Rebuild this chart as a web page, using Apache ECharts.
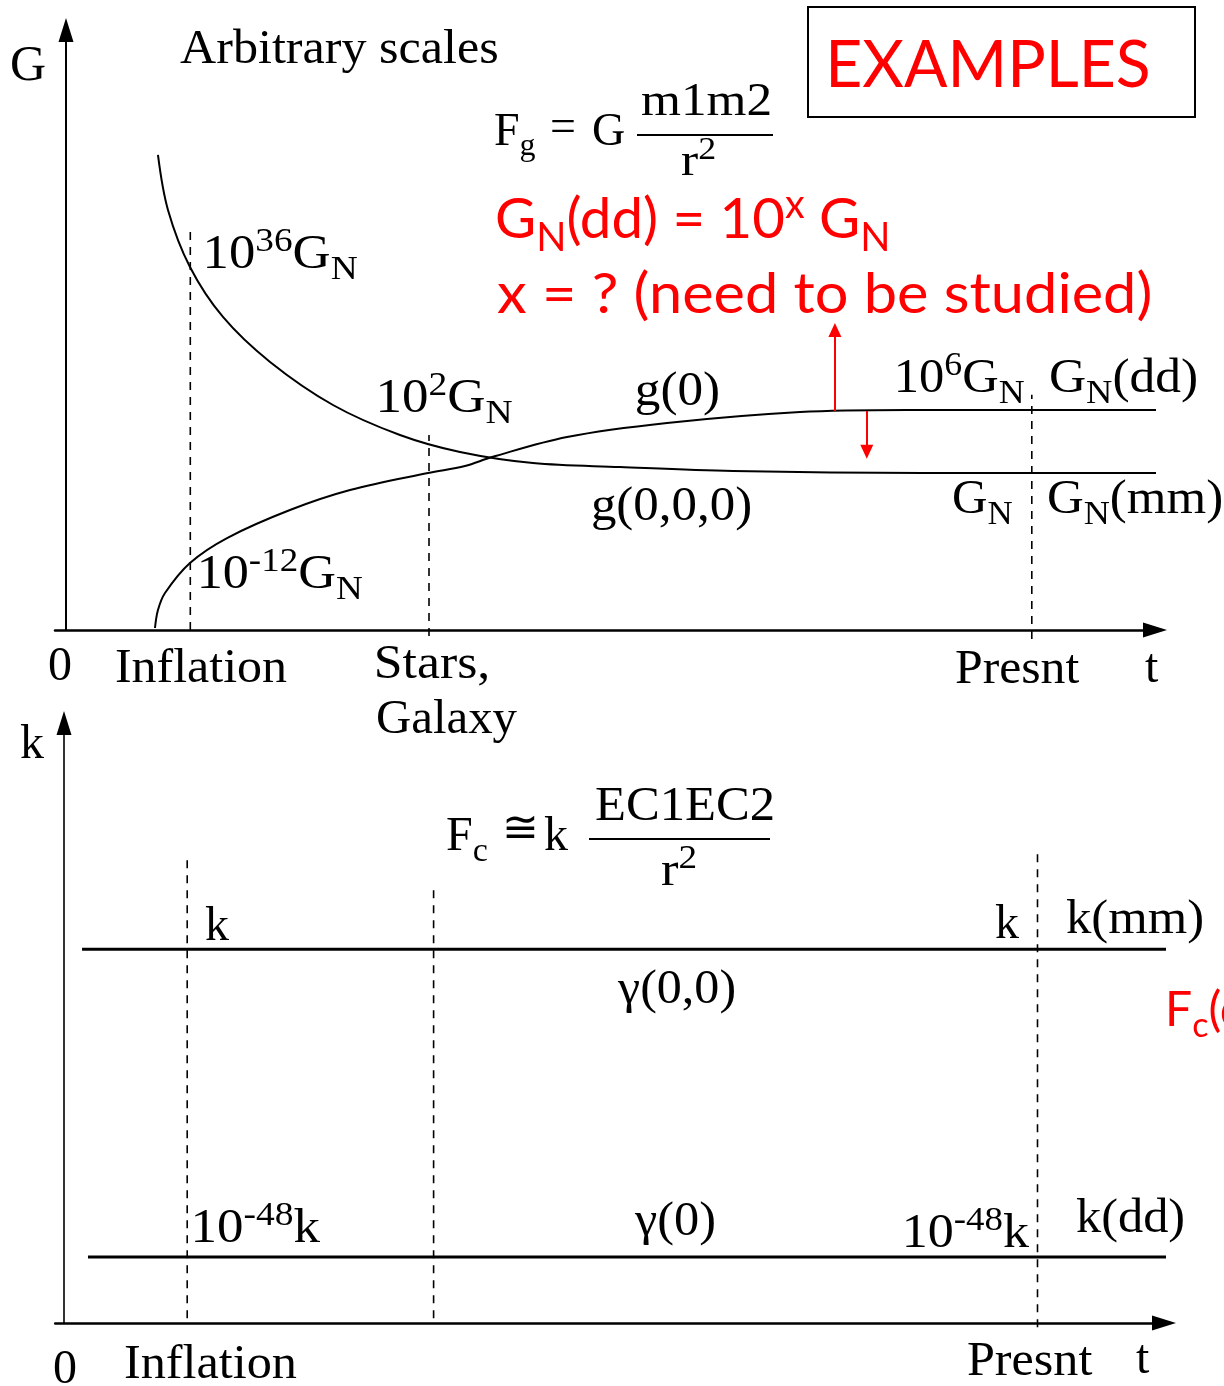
<!DOCTYPE html>
<html><head><meta charset="utf-8">
<script src="https://cdn.jsdelivr.net/npm/echarts@6/dist/echarts.min.js"></script>
<style>html,body{margin:0;padding:0;background:#fff}#c{width:1224px;height:1386px}</style>
</head><body><div id="c"></div>
<script>
// ---------- DATA (arbitrary units: t = time, G / k = coupling) ----------
// Top panel: G(t) curves
const gDecreasing = [[8.36,79.17],[9.27,70.0],[11.27,60.5],[14.27,52.17],[18.55,44.67],[24.27,37.5],[30.36,32.5],[35.82,29.67],[42.45,27.83],[50.36,27.17],[60.64,26.5],[77.91,26.17],[100.18,26.17]];
const gIncreasing = [[8.09,0.33],[8.36,3.33],[9.0,6.17],[11.27,11.17],[14.64,15.33],[20.36,20.0],[25.82,23.33],[32.91,26.17],[36.27,27.33],[38.73,28.83],[45.55,32.17],[54.64,34.5],[66.73,36.33],[76.45,36.67],[99.27,36.67]];
// dashed epoch markers (Inflation, Stars/Galaxy, Present)
const topDashT  = [11.3, 33.0, 87.8];
const topDashG0 = [0, -1, -1.5];
const topDashG1 = [66.7, 32.5, 39.2];
// red arrows (x = ? uncertainty)
const arrowT    = [69.9, 72.8];
const arrowFrom = [36.5, 36.5];
const arrowTo   = [50.0, 29.7];
// Bottom panel: k(t) levels
const kLevels    = [62.3, 11.0];
const kLineStart = [1.64, 2.18];
const kLineEnd   = [101.0, 100.3];
const botDashT  = [11.2, 33.6, 88.5];
const botDashK0 = [0.8, 0.8, -0.7];
const botDashK1 = [78.0, 72.2, 78.5];

// ---------- TEXT LABELS: [markup (^{sup} _{sub}), left x, baseline y, font size, fitted ink width, family, color] ----------
const SERIF = 'Liberation Serif', SANS = 'Lato', RED = '#ff0000', BLK = '#000000';
const labels = [
  ['G',10,80,50],
  ['Arbitrary scales',180,63,48,317],
  ['F_{g}',494,145,46],['=',550,141,46],['G',592,145,46],
  ['m1m2',641,115,46,129],['r^{2}',681,175,46,34],
  ['EXAMPLES',831,87,66,317,SANS,RED],
  ['G_{N}(dd) = 10^{x} G_{N}',497,238,57,390,SANS,RED],
  ['x = ? (need to be studied)',497,313,57,653,SANS,RED],
  ['10^{36}G_{N}',207,268,48,150],
  ['10^{2}G_{N}',380,412,48,132],
  ['g(0)',637,405,48,81],
  ['10^{6}G_{N}',898,392,48,126],
  ['G_{N}(dd)',1050,392,48,146],
  ['g(0,0,0)',593,520,48,157],
  ['G_{N}',953,513,48,59],
  ['G_{N}(mm)',1048,513,48,173],
  ['10^{-12}G_{N}',201,588,48,161],
  ['0',48,680,48],['Inflation',116,682,48,171],['Stars,',377,678,48,110],['Galaxy',377,733,48,140],
  ['Presnt',956,683,48,124],['t',1145,682,48],
  // bottom panel
  ['k',20,758,48],
  ['F_{c}',446,850,48],['\u2245',502,842,44],['k',544,850,48],
  ['EC1EC2',596,820,48,177],['r^{2}',661,885,48,35],
  ['k',205,940,48],['k',995,938,48],['k(mm)',1066,933,48,136],
  ['\u03b3(0,0)',617,1003,48,117],
  ['F_{c}(dd)',1165,1026,48,null,SANS,RED],
  ['10^{-48}k',195,1242,48,125],
  ['\u03b3(0)',634,1235,48,80],
  ['10^{-48}k',906,1247,48,123],
  ['k(dd)',1076,1232,48,107],
  ['0',53,1383,48],['Inflation',125,1378,48,172],['Presnt',968,1375,48,125],['t',1136,1373,48]
];

// ---------- BUILD ----------
const cv = document.createElement('canvas').getContext('2d');
function parse(s) {
  const out = []; let i = 0;
  const isMark = k => (s[k] === '^' || s[k] === '_') && s[k + 1] === '{';
  while (i < s.length) {
    if (isMark(i)) { const j = s.indexOf('}', i); out.push([s.slice(i + 2, j), s[i] === '^' ? 'sup' : 'sub']); i = j + 1; }
    else { let j = i; while (j < s.length && !isMark(j)) j++; out.push([s.slice(i, j), 'n']); i = j; }
  }
  return out;
}
function labelEl(l) {
  const [mk, x, base, size, width, fam, col] = l;
  const family = fam || SERIF;
  const parts = parse(mk);
  const children = [];
  let cursor = 0, leftInk = 0, lastRight = 0, lastAdv = 0;
  parts.forEach((p, idx) => {
    const [str, kind] = p;
    const sz = kind === 'n' ? size : Math.round(size * 0.7);
    const dy = kind === 'sup' ? -0.35 * size : (kind === 'sub' ? 0.22 * size : 0);
    const font = sz + 'px "' + family + '"';
    cv.font = font; cv.textBaseline = 'middle';
    const off = cv.measureText('H').actualBoundingBoxDescent;
    const m = cv.measureText(str);
    if (idx === 0) leftInk = m.actualBoundingBoxLeft;
    children.push({ type: 'text', x: cursor, y: dy - off, silent: true,
      style: { text: str, font: font, fill: col || BLK, align: 'left', verticalAlign: 'middle', textAlign: 'left', textVerticalAlign: 'middle', x: 0, y: 0 } });
    lastAdv = cursor; lastRight = m.actualBoundingBoxRight;
    cursor += m.width;
  });
  let sx = 1, x0 = x;
  if (width) {
    const ink = lastAdv + lastRight + leftInk;
    sx = width / ink;
    x0 = x + leftInk * sx;
  }
  return { type: 'group', x: x0, y: base, scaleX: sx, silent: true, z: 10, children: children };
}
const graphics = labels.map(labelEl);
graphics.push({ type: 'line', shape: {x1: 637, y1: 135, x2: 773, y2: 135}, style: {stroke: '#000', lineWidth: 1.8} });
graphics.push({ type: 'line', shape: {x1: 589, y1: 839, x2: 770, y2: 839}, style: {stroke: '#000', lineWidth: 1.8} });
graphics.push({ type: 'rect', shape: {x: 808, y: 7, width: 387, height: 110}, style: {fill: 'rgba(0,0,0,0)', stroke: '#000', lineWidth: 2} });

const dashStyle = {color: '#000', width: 1.6, type: [8, 7]};
const series = [];
series.push({ type: 'line', xAxisIndex: 0, yAxisIndex: 0, data: gDecreasing, smooth: 0.35, symbol: 'none', clip: false, lineStyle: {color: '#000', width: 2} });
series.push({ type: 'line', xAxisIndex: 0, yAxisIndex: 0, data: gIncreasing, smooth: 0.35, symbol: 'none', clip: false, lineStyle: {color: '#000', width: 2} });
topDashT.forEach((t, i) => series.push({ type: 'line', xAxisIndex: 0, yAxisIndex: 0, data: [[t, topDashG0[i]], [t, topDashG1[i]]], symbol: 'none', clip: false, lineStyle: dashStyle }));
series.push({ type: 'line', xAxisIndex: 0, yAxisIndex: 0, data: [], symbol: 'none',
  markLine: { silent: true, symbol: ['none', 'triangle'], symbolSize: [13, 14], label: {show: false},
    lineStyle: {color: RED, width: 2, type: 'solid'}, emphasis: {disabled: true},
    data: arrowT.map((t, i) => [{coord: [t, arrowFrom[i]]}, {coord: [t, arrowTo[i]]}]) } });
kLevels.forEach((k, i) => series.push({ type: 'line', xAxisIndex: 1, yAxisIndex: 1, data: [[kLineStart[i], k], [kLineEnd[i], k]], symbol: 'none', clip: false, lineStyle: {color: '#000', width: 3} }));
botDashT.forEach((t, i) => series.push({ type: 'line', xAxisIndex: 1, yAxisIndex: 1, data: [[t, botDashK0[i]], [t, botDashK1[i]]], symbol: 'none', clip: false, lineStyle: dashStyle }));

function xAx(idx, min, max, w) {
  return { type: 'value', gridIndex: idx, min: min, max: max, position: 'bottom',
    axisLine: {show: true, onZero: true, symbol: ['none', 'triangle'], symbolSize: [15, 24], lineStyle: {color: '#000', width: w}},
    axisTick: {show: false}, axisLabel: {show: false}, splitLine: {show: false} };
}
function yAx(idx, w) {
  return { type: 'value', gridIndex: idx, min: 0, max: 100,
    axisLine: {show: true, onZero: true, symbol: ['none', 'triangle'], symbolSize: [15, 24], lineStyle: {color: '#000', width: w}},
    axisTick: {show: false}, axisLabel: {show: false}, splitLine: {show: false} };
}

const chart = echarts.init(document.getElementById('c'), null, {renderer: 'canvas'});
chart.setOption({
  animation: false,
  backgroundColor: '#ffffff',
  tooltip: {show: false},
  grid: [
    {left: 55, top: 30, width: 1100, height: 600, containLabel: false},
    {left: 55.2, top: 723, width: 1108.8, height: 600, containLabel: false}
  ],
  xAxis: [xAx(0, -1, 99, 2.5), xAx(1, -0.8, 100, 2.5)],
  yAxis: [yAx(0, 2), yAx(1, 1.6)],
  series: series,
  graphic: graphics
});
</script></body></html>
